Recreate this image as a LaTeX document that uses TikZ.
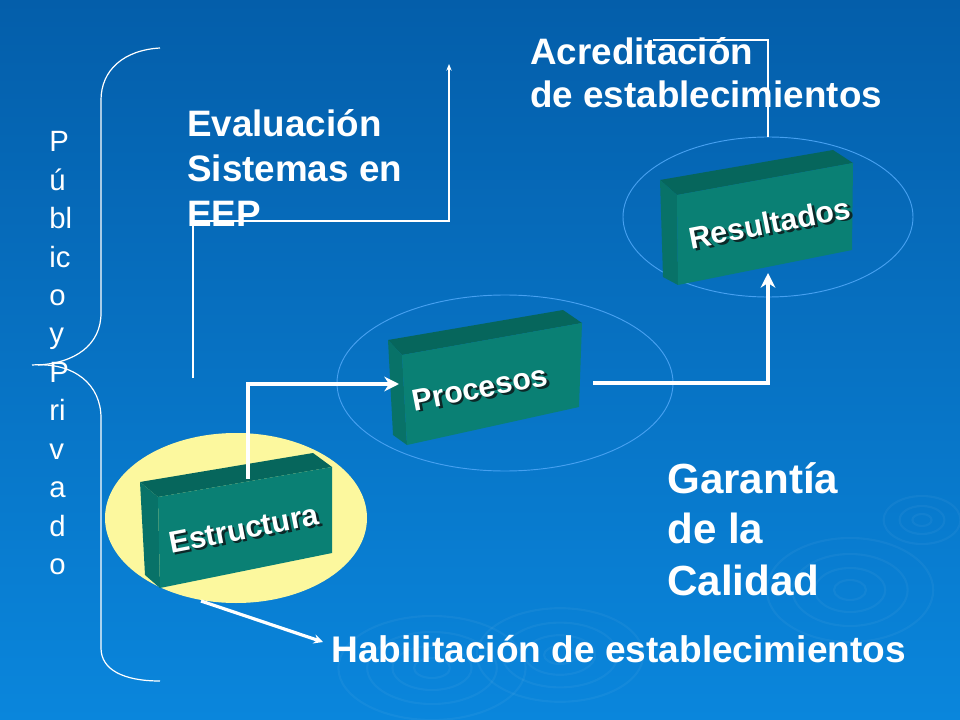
\documentclass[tikz,border=0pt]{standalone}
\usepackage{fontspec}
\setmainfont{Liberation Sans}
\usetikzlibrary{arrows.meta,shapes.geometric}
\definecolor{bgtop}{RGB}{4,94,170}
\definecolor{bgbot}{RGB}{10,134,220}
\definecolor{tealfront}{RGB}{10,128,116}
\definecolor{tealtop}{RGB}{6,102,92}
\definecolor{tealside}{RGB}{8,114,104}
\definecolor{ringblue}{RGB}{70,160,240}
\definecolor{paleyellow}{RGB}{252,248,158}
\definecolor{shadowcol}{RGB}{12,40,40}
\newcommand{\shadowed}[1]{\makebox[0pt][l]{\hspace{1.8pt}\raisebox{-1.8pt}{\color{shadowcol}#1}}#1}
\begin{document}
\begin{tikzpicture}[x=0.75pt,y=-0.75pt,
  bigtext/.style={text=white,font=\fontsize{27.6}{32}\selectfont\bfseries,anchor=base west,inner sep=0pt},
  hugetext/.style={text=white,font=\fontsize{31.6}{36}\selectfont\bfseries,anchor=base west,inner sep=0pt},
  habtext/.style={text=white,font=\fontsize{27.8}{32}\selectfont\bfseries,anchor=base west,inner sep=0pt},
  vtext/.style={text=white,font=\fontsize{22}{24}\selectfont,anchor=base west,inner sep=0pt},
  boxlabel/.style={text=white,font=\fontsize{22.8}{26}\selectfont\bfseries,rotate=11,inner sep=0pt},
  thinline/.style={draw=white,line width=0.8pt},
  thickarrow/.style={draw=white,line width=3pt,-{Stealth[length=11pt,width=11pt,inset=3.5pt]}},
  ripple/.style={draw=white,opacity=0.045,line width=1.6pt},
  zone/.style={draw=ringblue,line width=0.7pt}]
\useasboundingbox (0,0) rectangle (960,720);
\shade[top color=bgtop,bottom color=bgbot] (0,0) rectangle (960,720);
% ripples
\foreach \r in {10,22,36,52}{
  \draw[ripple] (432,668) ellipse ({1.8*\r} and {\r});
  \draw[ripple] (560,655) ellipse ({1.6*\r} and {0.9*\r});
  \draw[ripple] (850,590) ellipse ({1.6*\r} and {\r});
}
\foreach \r in {6,14,24}{
  \draw[ripple] (922,520) ellipse ({1.6*\r} and {\r});
}
% zones
\fill[paleyellow] (236,518) ellipse (131 and 85);
\draw[zone] (505,383) ellipse (168 and 88);
\draw[zone] (768,217) ellipse (145 and 80);
% brace
\draw[thinline,line width=0.9pt] (160,48) .. controls (124,50) and (101,70) .. (101,100) -- (101,313)
  .. controls (101,345) and (75,363) .. (38,365);
\draw[thinline,line width=0.9pt] (32,365) .. controls (75,362) and (101,385) .. (101,418) -- (101,648)
  .. controls (101,670) and (124,681) .. (160,681);
% vertical text
\foreach \t [count=\i from 0] in {P,ú,bl,ic,o,y,P,ri,v,a,d,o}{
  \node[vtext] (pv\i) at (49,{152+38.4*\i}) {\t};
}
% texts
\node[bigtext] (acred1) at (530,65) {Acreditación};
\node[bigtext] (acred2) at (530,108) {de establecimientos};
\node[bigtext] (eval1) at (187,137) {Evaluación};
\node[bigtext] (eval2) at (187,182) {Sistemas en};
\node[bigtext] (eval3) at (187,227) {EEP};
\node[hugetext] (gar1) at (667,493) {Garantía};
\node[hugetext] (gar2) at (667,543) {de la};
\node[hugetext] (gar3) at (667,595) {Calidad};
\node[habtext] (hab) at (331,662) {Habilitación de establecimientos};
% thin connectors
\coordinate (evalStart) at (193,378);
\coordinate (evalCorner) at (449,221);
\coordinate (evalEnd) at (449,64);
\draw[thinline,-{Stealth[length=5pt,width=4pt]}] (evalStart) |- (evalCorner) -- (evalEnd);
\coordinate (acrStart) at (768,137);
\coordinate (acrCorner) at (768,40);
\coordinate (acrEnd) at (653,40);
\draw[thinline] (acrStart) -- (acrCorner) -- (acrEnd);
% boxes
\newcommand{\tealbox}[7]{%
  \fill[tealtop] #1 -- #2 -- #3 -- #4 -- cycle;
  \fill[tealside] #1 -- #4 -- #6 -- #7 -- cycle;
  \fill[tealfront] #4 -- #3 -- #5 -- #6 -- cycle;}
\tealbox{(140,482)}{(313,453)}{(332,467)}{(158,497)}{(332,553)}{(160,588)}{(145,575)}
\tealbox{(388,340)}{(563,310)}{(582,323)}{(402,355)}{(579,407)}{(407,445)}{(393,435)}
\tealbox{(660,180)}{(833,150)}{(853,163)}{(677,195)}{(852,250)}{(678,285)}{(663,277)}
\node[boxlabel] (estructura) at (244,530) {\shadowed{Estructura}};
\node[boxlabel] (procesos) at (480,389) {\shadowed{Procesos}};
\node[boxlabel] (resultados) at (770,224) {\shadowed{Resultados}};
% thick connectors
\coordinate (eTop) at (248,479);
\coordinate (pIn) at (399,384);
\coordinate (pOut) at (593,383);
\coordinate (rIn) at (768,273);
\draw[thickarrow] (eTop) |- (pIn);
\draw[thickarrow] (pOut) -| (rIn);
\coordinate (habStart) at (201,601);
\coordinate (habEnd) at (323,642);
\draw[draw=white,line width=2.4pt,-{Stealth[length=7pt,width=7pt,inset=2.5pt]}] (habStart) -- (habEnd);
\end{tikzpicture}
\end{document}
